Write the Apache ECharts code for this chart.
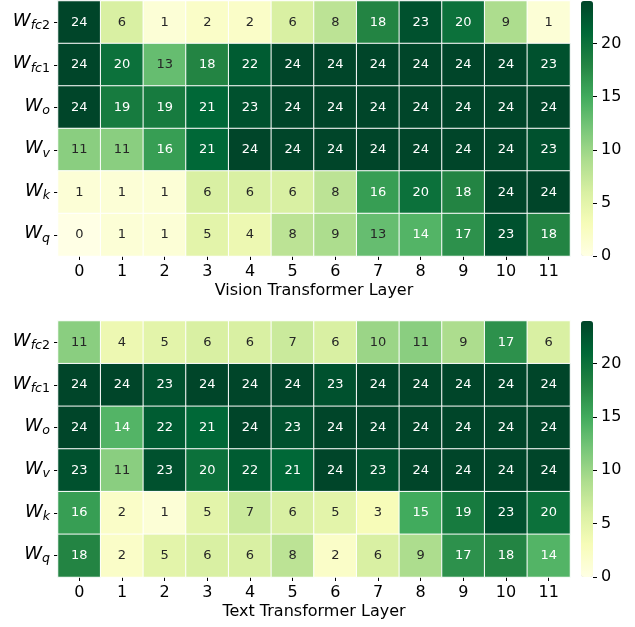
<!DOCTYPE html>
<html>
<head>
<meta charset="utf-8">
<script src="https://cdn.jsdelivr.net/npm/echarts@6/dist/echarts.min.js"></script>
<style>
  html, body { margin: 0; padding: 0; background: #ffffff; }
  #chart { width: 635px; height: 627px; }
</style>
</head>
<body>
<div id="chart"></div>
<script>
// ---- data ----
const layers = ['0','1','2','3','4','5','6','7','8','9','10','11'];
const rowSubs = ['fc2','fc1','o','v','k','q']; // top to bottom, labels W_{sub}

const visionFc2 = [24, 6, 1, 2, 2, 6, 8, 18, 23, 20, 9, 1];
const visionFc1 = [24, 20, 13, 18, 22, 24, 24, 24, 24, 24, 24, 23];
const visionO   = [24, 19, 19, 21, 23, 24, 24, 24, 24, 24, 24, 24];
const visionV   = [11, 11, 16, 21, 24, 24, 24, 24, 24, 24, 24, 23];
const visionK   = [1, 1, 1, 6, 6, 6, 8, 16, 20, 18, 24, 24];
const visionQ   = [0, 1, 1, 5, 4, 8, 9, 13, 14, 17, 23, 18];

const textFc2 = [11, 4, 5, 6, 6, 7, 6, 10, 11, 9, 17, 6];
const textFc1 = [24, 24, 23, 24, 24, 24, 23, 24, 24, 24, 24, 24];
const textO   = [24, 14, 22, 21, 24, 23, 24, 24, 24, 24, 24, 24];
const textV   = [23, 11, 23, 20, 22, 21, 24, 23, 24, 24, 24, 24];
const textK   = [16, 2, 1, 5, 7, 6, 5, 3, 15, 19, 23, 20];
const textQ   = [18, 2, 5, 6, 6, 8, 2, 6, 9, 17, 18, 14];

const colorbarTicks = [0, 5, 10, 15, 20];
const vMin = 0, vMax = 24;

const visionRows = [visionFc2, visionFc1, visionO, visionV, visionK, visionQ];
const textRows = [textFc2, textFc1, textO, textV, textK, textQ];

const YlGn = ['#ffffe5','#f7fcb9','#d9f0a3','#addd8e','#78c679','#41ab5d','#238443','#006837','#004529'];
const FONT = 'DejaVu Sans';

function buildData(rows) {
  const out = [];
  rows.forEach((row, yi) => {
    row.forEach((v, xi) => {
      out.push({ value: [xi, yi, v], label: { color: v >= 14 ? '#ffffff' : '#262626' } });
    });
  });
  return out;
}

function yLabelFormatter(sub) {
  // letters italic, digits upright (mathtext style)
  let s = '{w|W}';
  const parts = sub.match(/[a-z]+|[0-9]+/g) || [];
  parts.forEach(p => { s += /[0-9]/.test(p) ? '{d|' + p + '}' : '{s|' + p + '}'; });
  return s;
}

const richY = {
  w: { fontFamily: FONT, fontStyle: 'italic', fontSize: 18, lineHeight: 20, padding: [0, 0, 1, 0], verticalAlign: 'top', color: '#000' },
  s: { fontFamily: FONT, fontStyle: 'italic', fontSize: 12.6, lineHeight: 13, verticalAlign: 'bottom', color: '#000' },
  d: { fontFamily: FONT, fontStyle: 'normal', fontSize: 12.6, lineHeight: 13, verticalAlign: 'bottom', color: '#000' }
};

const grids = [
  { left: 58, top: 1, width: 512, height: 255 },
  { left: 58, top: 321, width: 512, height: 256 },
  { left: 581, top: 1, width: 12, height: 255 },
  { left: 581, top: 321, width: 12, height: 256 }
];

const tickStyle = { color: '#000', width: 1 };

function heatX(gi, name) {
  return {
    type: 'category', gridIndex: gi, data: layers, position: 'bottom',
    axisLine: { show: false, onZero: false },
    axisTick: { show: true, alignWithLabel: true, length: 4, lineStyle: tickStyle },
    axisLabel: { fontFamily: FONT, fontSize: 16, color: '#000', margin: 8 },
    splitArea: { show: false }, splitLine: { show: false },
    name: name, nameLocation: 'middle', nameGap: 27,
    nameTextStyle: { fontFamily: FONT, fontSize: 16, color: '#000' }
  };
}
function heatY(gi) {
  return {
    type: 'category', gridIndex: gi, data: rowSubs, inverse: true, position: 'left',
    axisLine: { show: false, onZero: false },
    axisTick: { show: true, alignWithLabel: true, length: 4, lineStyle: tickStyle },
    axisLabel: { formatter: yLabelFormatter, rich: richY, margin: 8 },
    splitArea: { show: false }, splitLine: { show: false }
  };
}
function cbX(gi) {
  return { type: 'value', gridIndex: gi, show: false, min: 0, max: 1 };
}
function cbY(gi) {
  return {
    type: 'value', gridIndex: gi, min: vMin, max: vMax, position: 'right', z: 10,
    axisLine: { show: false, onZero: false },
    splitLine: { show: false },
    axisTick: { show: true, length: 4, customValues: colorbarTicks, lineStyle: tickStyle },
    axisLabel: { show: true, customValues: colorbarTicks, fontFamily: FONT, fontSize: 16, color: '#000', margin: 8 }
  };
}

const option = {
  backgroundColor: '#ffffff',
  animation: false,
  grid: grids,
  xAxis: [heatX(0, 'Vision Transformer Layer'), heatX(1, 'Text Transformer Layer'), cbX(2), cbX(3)],
  yAxis: [heatY(0), heatY(1), cbY(2), cbY(3)],
  visualMap: [
    { type: 'continuous', min: vMin, max: vMax, seriesIndex: 0, calculable: false, inRange: { color: YlGn },
      orient: 'vertical', left: 581, top: 1, itemWidth: 12, itemHeight: 255, padding: 0, text: null, showLabel: false, hoverLink: false },
    { type: 'continuous', min: vMin, max: vMax, seriesIndex: 1, calculable: false, inRange: { color: YlGn },
      orient: 'vertical', left: 581, top: 321, itemWidth: 12, itemHeight: 256, padding: 0, text: null, showLabel: false, hoverLink: false }
  ],
  series: [
    { type: 'heatmap', xAxisIndex: 0, yAxisIndex: 0, data: buildData(visionRows),
      itemStyle: { borderColor: '#ffffff', borderWidth: 1 },
      label: { show: true, fontFamily: FONT, fontSize: 13, formatter: p => String(p.value[2]) },
      emphasis: { disabled: true } },
    { type: 'heatmap', xAxisIndex: 1, yAxisIndex: 1, data: buildData(textRows),
      itemStyle: { borderColor: '#ffffff', borderWidth: 1 },
      label: { show: true, fontFamily: FONT, fontSize: 13, formatter: p => String(p.value[2]) },
      emphasis: { disabled: true } }
  ]
};

const chart = echarts.init(document.getElementById('chart'), null, { renderer: 'canvas' });
chart.setOption(option);
</script>
</body>
</html>
